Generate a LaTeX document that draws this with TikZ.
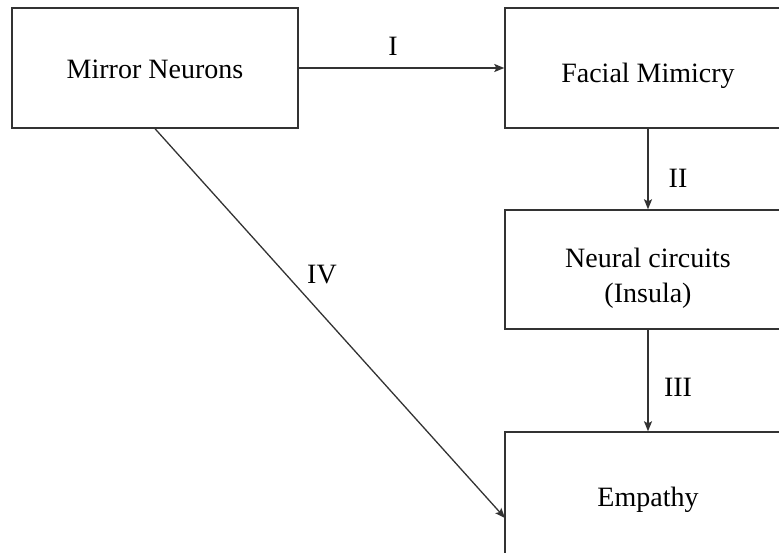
\documentclass[tikz,border=0pt]{standalone}
\usepackage{fontspec}
\setmainfont{Liberation Serif}
\newfontfamily\tnr{Liberation Serif}
\usetikzlibrary{arrows.meta,calc}
\definecolor{edge}{HTML}{333333}
\tikzset{
  box/.style={draw=edge, line width=1.4pt, minimum width=286pt, minimum height=120pt, inner sep=0pt, align=center, font=\tnr\fontsize{28}{35}\selectfont, text=black, text depth=0pt},
  conn/.style={draw=edge, line width=1.3pt, -{Stealth[length=10pt,width=8pt,inset=2pt]}},
  lab/.style={font=\tnr\fontsize{28}{33}\selectfont, text=black, inner sep=0pt}
}
\begin{document}
\begin{tikzpicture}[x=1pt,y=-1pt]
\useasboundingbox (0,0) rectangle (779,552);
\clip (0,0) rectangle (779,552);
\node[box, text height=20pt] (mn) at (155,68) {Mirror Neurons};
\node[box, text height=28pt] (fm) at (648,68) {Facial Mimicry};
\node[box, minimum height=119pt, text height=65pt] (nc) at (648,269.5) {Neural circuits\\(Insula)};
\node[box, minimum height=130pt, text height=18pt] (em) at (648,497) {Empathy};
\coordinate (ivend) at (505,518);
\draw[conn] (mn.east) -- (fm.west);
\draw[conn] (fm.south) -- (nc.north);
\draw[conn] (nc.south) -- (em.north);
\draw[conn] (mn.south) -- (ivend);
\node[lab] (l1) at (393,46) {I};
\node[lab] (l2) at (678,178) {II};
\node[lab] (l3) at (678,387) {III};
\node[lab] (l4) at (322,275) {IV};
\end{tikzpicture}
\end{document}
